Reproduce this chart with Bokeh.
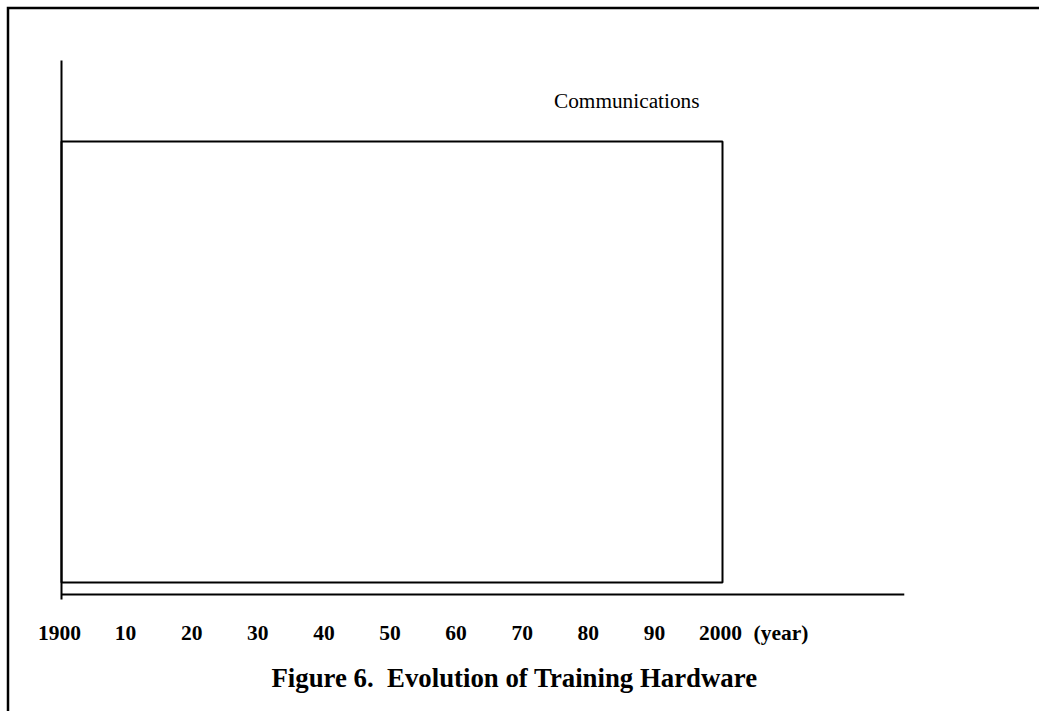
from bokeh.plotting import figure
from bokeh.models import Range1d, ColumnDataSource, Label
from bokeh.core.properties import value
from bokeh.embed import file_html
from bokeh.resources import INLINE

# ---- data ----
categories = ["Communications"]
start_years = [1900]
end_years = [2000]
bar_low = [12]
bar_high = [453]

tick_years = [1900, 1910, 1920, 1930, 1940, 1950, 1960, 1970, 1980, 1990, 2000]
tick_labels = ["1900", "10", "20", "30", "40", "50", "60", "70", "80", "90", "2000"]
axis_unit = "(year)"
axis_end_year = 2027.5
caption = "Figure 6.\u00a0 Evolution of Training Hardware"

# ---- layout ----
W, H = 1039, 711
PX_PER_YEAR = 6.61
x_start = 1900 - 61 / PX_PER_YEAR
x_end = x_start + W / PX_PER_YEAR
y_start, y_end = 594 - H, 594

p = figure(width=W, height=H, output_backend="svg", toolbar_location=None,
           x_range=Range1d(x_start, x_end), y_range=Range1d(y_start, y_end),
           x_axis_type=None, y_axis_type=None, min_border=0,
           min_border_left=0, min_border_right=0, min_border_top=0, min_border_bottom=0)
p.xgrid.visible = False
p.ygrid.visible = False
p.outline_line_color = None
p.background_fill_color = "white"
p.border_fill_color = "white"

SERIF = "Liberation Serif"

# outer frame (top and left edges, meeting at a clean corner)
fx = x_start + 7.5 / PX_PER_YEAR
fy = y_end - 7.5
p.line(x=[x_end + 5, fx, fx], y=[fy, fy, y_start - 5], line_color="black",
       line_width=2.5, line_join="miter")

# axes lines
p.segment(x0=[1900], y0=[-5], x1=[1900], y1=[534], line_color="black", line_width=2)
p.segment(x0=[1900], y0=[0], x1=[axis_end_year], y1=[0], line_color="black", line_width=2)

# bars
src = ColumnDataSource(dict(cat=categories, start=start_years, end=end_years,
                            low=bar_low, high=bar_high))
p.quad(left="start", right="end", bottom="low", top="high", source=src,
       fill_color=None, line_color="black", line_width=2)
p.text(x="end", y="high", text="cat", source=src, x_offset=-23, y_offset=-41,
       text_align="right", text_baseline="alphabetic",
       text_font=value(SERIF), text_font_size="21.3px", text_color="black")

# tick labels
tsrc = ColumnDataSource(dict(x=tick_years, y=[-38] * len(tick_years), t=tick_labels))
p.text(x="x", y="y", text="t", source=tsrc, text_align="center", x_offset=-2,
       text_baseline="alphabetic", text_font=value(SERIF), text_font_size="21.5px",
       text_font_style="bold", text_color="black")
p.add_layout(Label(x=tick_years[-1], y=-38, x_offset=31, text=axis_unit,
                   text_align="left", text_baseline="alphabetic", text_font=SERIF,
                   text_font_size="21.5px", text_font_style="bold", text_color="black"))

# caption
p.add_layout(Label(x=514, x_units="screen", y=-83, text=caption,
                   text_align="center", text_baseline="alphabetic", text_font=SERIF,
                   text_font_size="26.8px", text_font_style="bold", text_color="black"))

open("out.html", "w").write(file_html(p, INLINE))
